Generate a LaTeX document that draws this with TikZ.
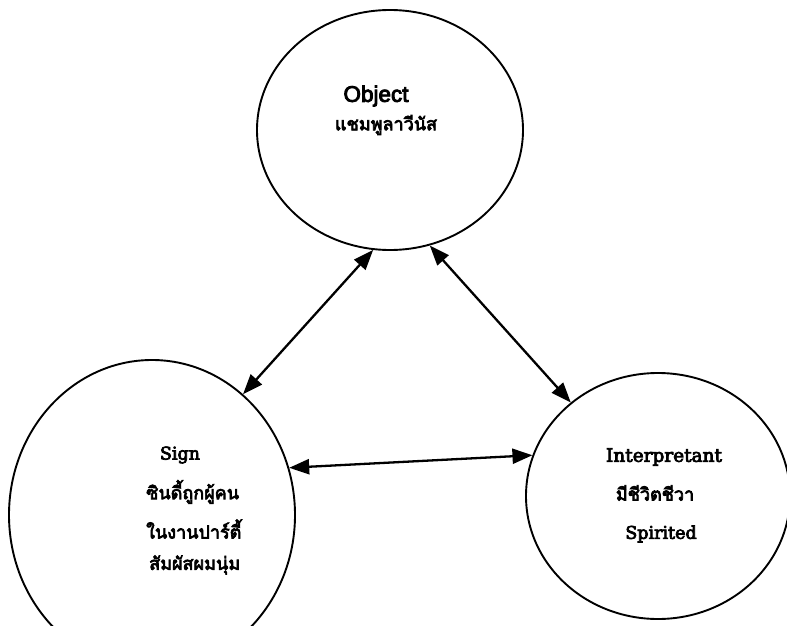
\documentclass[tikz,border=0pt]{standalone}
\usepackage{fontspec}
\setmainfont{DejaVu Serif}[FakeBold=4]
\newfontfamily\thaifont[Script=Thai,FakeBold=4]{Loma}
\newfontfamily\objfont{Liberation Sans}[FakeBold=4]
\usetikzlibrary{shapes.geometric,arrows.meta}
\tikzset{
  sphere/.style={ellipse, draw=black, line width=1.9pt, inner sep=0pt},
  link/.style={line width=2.3pt, {Triangle[length=20pt,width=15pt]}-{Triangle[length=20pt,width=15pt]}},
  lat/.style={font=\fontsize{17.5}{20}\selectfont, inner sep=0pt, anchor=center},
  thai/.style={font=\thaifont\fontsize{18}{22}\selectfont, inner sep=0pt}
}
\begin{document}
\begin{tikzpicture}[x=1pt,y=-1pt]
\useasboundingbox (0,0) rectangle (787,626);
\fill[white] (0,0) rectangle (787,626);
% circles
\node[sphere, minimum width=266pt, minimum height=240pt] (obj) at (390,130) {};
\node[sphere, minimum width=286pt, minimum height=310pt] (sign) at (152,515) {};
\node[sphere, minimum width=264pt, minimum height=246pt] (interp) at (658,496) {};
% texts
\node[lat, font=\objfont\fontsize{22.5}{26}\selectfont] (objA) at (376,96) {Object};
\node[thai] (objB) at (386,125) {แชมพูลาวีนัส};
\node[lat] (signA) at (180,455) {Sign};
\node[thai, anchor=west] (signB) at (146,492) {ซินดี้ถูกผู้คน};
\node[thai, anchor=west] (signC) at (146,529) {ในงานปาร์ตี้};
\node[thai, anchor=west] (signD) at (149,565) {สัมผัสผมนุ่ม};
\node[lat, font=\fontsize{18.5}{22}\selectfont] (intA) at (664,457) {Interpretant};
\node[thai] (intB) at (655,493) {มีชีวิตชีวา};
\node[lat] (intC) at (661,534) {Spirited};
% connectors
\draw[link] (obj.262) -- (sign.53);
\draw[link] (obj.289) -- (interp.133);
\draw[link] (sign.19) -- (interp.162);
\end{tikzpicture}
\end{document}
